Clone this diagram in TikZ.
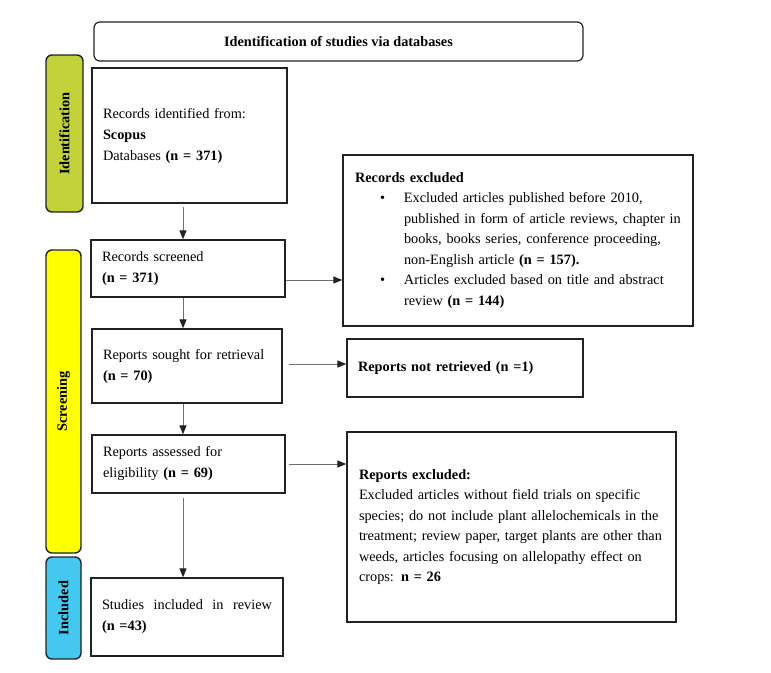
\documentclass[tikz,border=0pt]{standalone}
\usepackage{fontspec}
\setmainfont{Liberation Serif}
\usetikzlibrary{arrows.meta,calc}
\definecolor{idgreen}{HTML}{C3D23A}
\definecolor{scryellow}{HTML}{FFFF00}
\definecolor{incblue}{HTML}{45C8F0}
\definecolor{edge}{HTML}{222222}
\definecolor{arrline}{HTML}{707070}
\begin{document}
\begin{tikzpicture}[x=1pt,y=-1pt,
  txt/.style={font=\fontsize{14.3}{21}\selectfont},
  box/.style={txt,draw=edge,line width=1.3pt,align=left,inner ysep=0pt,inner xsep=11pt,anchor=center},
  side/.style={draw=edge,line width=1.4pt,rounded corners=6pt,inner sep=0pt,anchor=center},
  sidelabel/.style={txt,font=\fontsize{14.3}{21}\selectfont\bfseries,rotate=90},
  arr/.style={draw=arrline,line width=1pt,-{Triangle[length=9pt,width=7pt,color=edge]}}
]
\useasboundingbox (0,0) rectangle (771,672);
\fill[white] (0,0) rectangle (771,672);

% title
\node[txt,draw=edge,line width=1.2pt,rounded corners=6pt,minimum width=489pt,minimum height=39pt,inner sep=0pt] (title) at (338.5,41.5) {\textbf{Identification of studies via databases}};

% side bars
\node[side,fill=idgreen,minimum width=37pt,minimum height=157pt] (idside) at (64.5,133.5) {};
\node[sidelabel] (idlab) at (idside.center) {Identification};
\node[side,fill=scryellow,minimum width=35pt,minimum height=303pt] (scrside) at (63.5,401.5) {};
\node[sidelabel] (scrlab) at (scrside.center) {Screening};
\node[side,fill=incblue,minimum width=35pt,minimum height=102pt] (incside) at (63.5,608) {};
\node[sidelabel] (inclab) at (incside.center) {Included};

% left column
\node[box,text width=173pt,minimum height=135pt] (b1) at (189.5,135.5)
  {Records identified from:\\\textbf{Scopus}\\Databases \textbf{(n = 371)}};
\node[box,text width=172pt,minimum height=57pt] (b2) at (188,268.5)
  {Records screened\\\textbf{(n = 371)}};
\node[box,text width=168pt,minimum height=74pt] (b3) at (187,366)
  {Reports sought for retrieval\\\textbf{(n = 70)}};
\node[box,text width=171pt,minimum height=58pt] (b4) at (188.5,464)
  {Reports assessed for\\eligibility \textbf{(n = 69)}};
\node[box,text width=170pt,minimum height=78pt] (b5) at (187,617)
  {\hbox to 170pt{Studies\hfill included\hfill in\hfill review}\\\textbf{(n =43)}};

% right column
\node[box,inner xsep=12pt,text width=326pt,minimum height=171pt] (recex) at (518,240.5)
  {\textbf{Records excluded}\\[-0.5pt]
   \makebox[49pt][l]{\hspace{25pt}\textbullet}Excluded articles published before 2010,\\[-0.5pt]
   \hspace*{49pt}published in form of article reviews, chapter in\\[-0.5pt]
   \hspace*{49pt}books, books series, conference proceeding,\\[-0.5pt]
   \hspace*{49pt}non-English article \textbf{(n = 157).}\\[-0.5pt]
   \makebox[49pt][l]{\hspace{25pt}\textbullet}Articles excluded based on title and abstract\\[-0.5pt]
   \hspace*{49pt}review \textbf{(n = 144)}};
\node[box,text width=214pt,minimum height=58pt] (notret) at (465,368)
  {\textbf{Reports not retrieved (n =1)}};
\node[box,inner xsep=12pt,text width=305pt,minimum height=190pt] (repex) at (511.5,527)
  {\textbf{Reports excluded:}\\[-0.5pt]
   Excluded articles without field trials on specific\\[-0.5pt]
   species; do not include plant allelochemicals in the\\[-0.5pt]
   treatment; review paper, target plants are other than\\[-0.5pt]
   weeds, articles focusing on allelopathy effect on\\[-0.5pt]
   crops: \textbf{n = 26}};

% vertical arrows
\coordinate (ax) at (183,0);
\draw[arr] ([yshift=-3pt]b1.south -| ax) -- (b2.north -| ax);
\draw[arr] (b2.south -| ax) -- (b3.north -| ax);
\draw[arr] (b3.south -| ax) -- (b4.north -| ax);
\draw[arr] ([yshift=-4pt]b4.south -| ax) -- (b5.north -| ax);

% horizontal arrows
\draw[arr] ([yshift=-11.5pt]b2.east) coordinate (h1) -- (h1 -| recex.west);
\draw[arr] ([xshift=6pt,yshift=2pt]b3.east) coordinate (h2) -- (h2 -| notret.west);
\draw[arr] ([xshift=3pt]b4.east) coordinate (h3) -- (h3 -| repex.west);
\end{tikzpicture}
\end{document}
